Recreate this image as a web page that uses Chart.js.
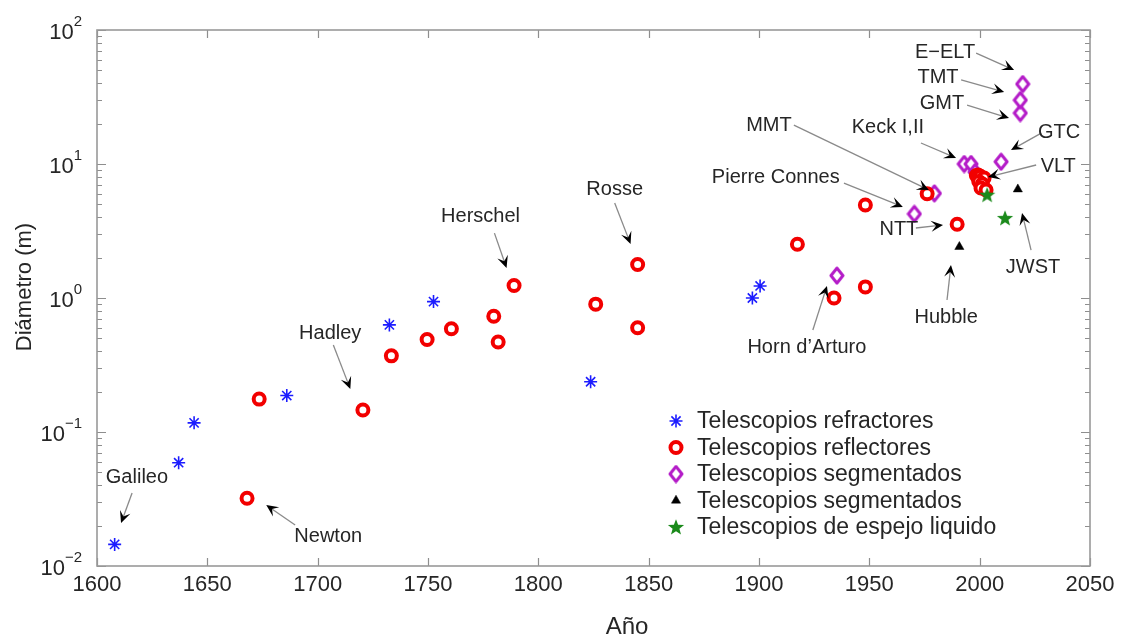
<!DOCTYPE html>
<html>
<head>
<meta charset="utf-8">
<title>Diámetro de telescopios</title>
<script src="https://cdn.jsdelivr.net/npm/chart.js@4.4.1/dist/chart.umd.min.js"></script>
<style>
  html, body { margin: 0; padding: 0; background: #fff; }
  #wrap { position: relative; width: 1124px; height: 636px; }
</style>
</head>
<body>
<div id="wrap"><canvas id="telescopeChart" width="1124" height="636"></canvas></div>
<script>
// Data (year, mirror diameter in m)
const refractorYears = [1608, 1637, 1644, 1686, 1732.5, 1752.5, 1823.7, 1897, 1900.5];
const refractorDiameters = [0.0145, 0.059, 0.117, 0.187, 0.63, 0.94, 0.237, 1.0, 1.23];

const reflectorYears = [1668, 1673.5, 1720.5, 1733.4, 1749.6, 1760.6, 1779.8, 1781.8, 1789, 1826, 1845, 1845,
  1917.4, 1934, 1948.2, 1948.2, 1976.2, 1989.8, 1998.5, 1999.3, 2000.3, 2002, 1999.6, 2001.2, 2000.6, 2002.9];
const reflectorDiameters = [0.032, 0.176, 0.146, 0.37, 0.49, 0.59, 0.73, 0.47, 1.24, 0.9, 1.78, 0.6,
  2.52, 1.0, 1.21, 4.94, 6.0, 3.55, 8.2, 8.28, 8.1, 7.87, 7.4, 7.1, 6.62, 6.4];

const segmentedYears = [1935.3, 1970.4, 1979.5, 1993, 1996.1, 1997.9, 2009.7, 2018.4, 2018.4, 2019.5];
const segmentedDiameters = [1.47, 4.24, 6.04, 10.0, 10.0, 8.7, 10.4, 24, 30, 39.5];

const spaceYears = [1990.8, 2017.3];
const spaceDiameters = [2.41, 6.48];

const liquidYears = [2003.4, 2011.5];
const liquidDiameters = [5.9, 3.95];

const seriesNames = ['Telescopios refractores', 'Telescopios reflectores', 'Telescopios segmentados',
  'Telescopios segmentados', 'Telescopios de espejo liquido'];

// Axis ticks
const xTicks = [1600, 1650, 1700, 1750, 1800, 1850, 1900, 1950, 2000, 2050];
const yTickExponents = [-2, -1, 0, 1, 2];

// Labels: text anchor, arrow tail, arrow tip (all in year / diameter)
const labelNames = ['Galileo', 'Newton', 'Hadley', 'Herschel', 'Rosse', 'Pierre Connes', 'MMT', 'Keck I,II',
  'E\u2212ELT', 'TMT', 'GMT', 'GTC', 'VLT', 'NTT', 'Horn d\u2019Arturo', 'Hubble', 'JWST'];
const labelAt = [[1618.1, 0.0461], [1704.8, 0.0167], [1705.7, 0.548], [1773.8, 4.09], [1834.6, 6.4],
  [1907.6, 7.87], [1904.5, 19.5], [1958.4, 18.6], [1984.3, 68.5], [1981.1, 44.6], [1982.9, 28.5],
  [2036.0, 17.3], [2035.6, 9.66], [1963.4, 3.27], [1921.7, 0.424], [1984.8, 0.721], [2024.2, 1.675]];
const arrowFrom = [[1615.9, 0.0351], [1689.8, 0.0202], [1707.1, 0.446], [1780.1, 3.05], [1834.6, 5.12],
  [1938.5, 7.21], [1915.8, 19.5], [1973.4, 14.35], [1998.4, 67.3], [1991.6, 42.4], [1994.3, 27.5],
  [2027.9, 17.0], [2025.6, 9.83], [1971.1, 3.33], [1924.4, 0.577], [1985.2, 0.966], [2023.3, 2.28]];
const arrowTo = [[1610.9, 0.0209], [1676.7, 0.0285], [1714.8, 0.2095], [1785.6, 1.675], [1841.8, 2.53],
  [1965.2, 4.78], [1977.0, 6.4], [1989.3, 11.09], [2015.6, 50.3], [2011.1, 34.5], [2013.3, 22.0],
  [2014.2, 12.7], [2003.8, 8.0], [1983.4, 3.51], [1930.8, 1.23], [1987.0, 1.76], [2019.2, 4.3]];

const FONT = '"Liberation Sans", Arial, Helvetica, sans-serif';
const TEXT = '#262626';

function toPoints(xs, ys) {
  return xs.map((x, i) => ({ x: x, y: ys[i] }));
}

// filled five-point star used as marker for the liquid mirror series
function makeStar(color, size) {
  const c = document.createElement('canvas');
  c.width = size; c.height = size;
  const g = c.getContext('2d');
  const cx = size / 2, cy = size / 2 + 0.7, R = size / 2 - 0.5, r = R * 0.42;
  g.beginPath();
  for (let i = 0; i < 10; i++) {
    const a = -Math.PI / 2 + i * Math.PI / 5;
    const rr = i % 2 ? r : R;
    g.lineTo(cx + rr * Math.cos(a), cy + rr * Math.sin(a));
  }
  g.closePath();
  g.fillStyle = color;
  g.fill();
  return c;
}

// MATLAB diamonds are a bit taller than wide
function makeDiamond(color, w, h, lw) {
  const c = document.createElement('canvas');
  c.width = w; c.height = h;
  const g = c.getContext('2d');
  const p = lw / 2 + 0.5;
  g.beginPath();
  g.moveTo(w / 2, p);
  g.lineTo(w - p, h / 2);
  g.lineTo(w / 2, h - p);
  g.lineTo(p, h / 2);
  g.closePath();
  g.fillStyle = '#fff';
  g.fill();
  g.lineWidth = lw;
  g.strokeStyle = color;
  g.lineJoin = 'round';
  g.stroke();
  return c;
}

const starMarker = makeStar('#1b8a1b', 18);
const diamondMarker = makeDiamond('#b41cc8', 16, 19, 3);

function drawArrow(ctx, x0, y0, x1, y1) {
  const ang = Math.atan2(y1 - y0, x1 - x0);
  ctx.save();
  ctx.strokeStyle = '#8a8a8a';
  ctx.lineWidth = 1.3;
  ctx.beginPath();
  ctx.moveTo(x0, y0);
  ctx.lineTo(x1 - Math.cos(ang) * 6, y1 - Math.sin(ang) * 6);
  ctx.stroke();
  ctx.translate(x1, y1);
  ctx.rotate(ang);
  ctx.fillStyle = '#000';
  ctx.beginPath();
  ctx.moveTo(0, 0);
  ctx.lineTo(-12, -5.5);
  ctx.lineTo(-7, 0);
  ctx.lineTo(-12, 5.5);
  ctx.closePath();
  ctx.fill();
  ctx.restore();
}

// MATLAB-like box, inward ticks, labels, arrows and legend
const matlabAxes = {
  id: 'matlabAxes',
  beforeDatasetsDraw(chart) {
    const { ctx, chartArea: a } = chart;
    const xs = chart.scales.x, ys = chart.scales.y;
    ctx.save();
    ctx.strokeStyle = '#8e8e8e';
    ctx.lineWidth = 1.2;
    ctx.beginPath();
    xTicks.forEach(v => {
      const px = Math.round(xs.getPixelForValue(v)) + 0.5;
      ctx.moveTo(px, a.bottom); ctx.lineTo(px, a.bottom - 8);
      ctx.moveTo(px, a.top); ctx.lineTo(px, a.top + 8);
    });
    yTickExponents.forEach((e, i) => {
      const base = Math.pow(10, e);
      const py = Math.round(ys.getPixelForValue(base)) + 0.5;
      ctx.moveTo(a.left, py); ctx.lineTo(a.left + 9, py);
      ctx.moveTo(a.right, py); ctx.lineTo(a.right - 9, py);
      if (i < yTickExponents.length - 1) {
        for (let m = 2; m <= 9; m++) {
          const my = Math.round(ys.getPixelForValue(base * m)) + 0.5;
          ctx.moveTo(a.left, my); ctx.lineTo(a.left + 5, my);
          ctx.moveTo(a.right, my); ctx.lineTo(a.right - 5, my);
        }
      }
    });
    ctx.stroke();
    ctx.lineWidth = 1.6;
    ctx.strokeStyle = '#999';
    ctx.strokeRect(a.left, a.top, a.right - a.left, a.bottom - a.top);

    // x tick labels
    ctx.fillStyle = TEXT;
    ctx.font = '22px ' + FONT;
    ctx.textAlign = 'center';
    ctx.textBaseline = 'middle';
    xTicks.forEach(v => ctx.fillText(String(v), xs.getPixelForValue(v), a.bottom + 19));

    // y tick labels as 10^n
    yTickExponents.forEach(e => {
      const py = ys.getPixelForValue(Math.pow(10, e));
      const exp = e < 0 ? '\u2212' + Math.abs(e) : String(e);
      ctx.font = '15px ' + FONT;
      const ew = ctx.measureText(exp).width;
      ctx.textAlign = 'left';
      ctx.fillText(exp, 82 - ew, py - 8);
      ctx.font = '22px ' + FONT;
      ctx.textAlign = 'right';
      ctx.fillText('10', 82 - ew, py + 3);
    });

    // axis titles
    ctx.font = '24px ' + FONT;
    ctx.textAlign = 'center';
    ctx.textBaseline = 'alphabetic';
    ctx.fillText('A\u00f1o', 627, 634);
    ctx.save();
    ctx.translate(31, 287);
    ctx.rotate(-Math.PI / 2);
    ctx.font = '22px ' + FONT;
    ctx.fillText('Di\u00e1metro (m)', 0, 0);
    ctx.restore();
    ctx.restore();
  },
  afterDatasetsDraw(chart) {
    const { ctx } = chart;
    const xs = chart.scales.x, ys = chart.scales.y;
    ctx.save();
    labelNames.forEach((name, i) => {
      drawArrow(ctx,
        xs.getPixelForValue(arrowFrom[i][0]), ys.getPixelForValue(arrowFrom[i][1]),
        xs.getPixelForValue(arrowTo[i][0]), ys.getPixelForValue(arrowTo[i][1]));
    });
    ctx.fillStyle = TEXT;
    ctx.font = '20px ' + FONT;
    ctx.textAlign = 'center';
    ctx.textBaseline = 'middle';
    labelNames.forEach((name, i) => {
      ctx.fillText(name, xs.getPixelForValue(labelAt[i][0]), ys.getPixelForValue(labelAt[i][1]));
    });

    // legend (inside the axes, no frame)
    chart.data.datasets.forEach((ds, i) => {
      const y = 421 + i * 26.5;
      ctx.save();
      ctx.fillStyle = ds.backgroundColor;
      ctx.strokeStyle = ds.borderColor;
      ctx.lineWidth = ds.borderWidth;
      Chart.helpers.drawPoint(ctx, {
        pointStyle: ds.pointStyle, radius: ds.pointRadius, borderWidth: ds.borderWidth, rotation: 0
      }, 676, y);
      ctx.restore();
      ctx.fillStyle = TEXT;
      ctx.font = '23px ' + FONT;
      ctx.textAlign = 'left';
      ctx.fillText(ds.label, 697, y + 1);
    });
    ctx.restore();
  }
};

const datasets = [
  {
    label: seriesNames[0],
    data: toPoints(refractorYears, refractorDiameters),
    pointStyle: 'star', pointRadius: 6.5, borderWidth: 1.6,
    borderColor: '#1c1cff', backgroundColor: '#1c1cff', order: 4
  },
  {
    label: seriesNames[1],
    data: toPoints(reflectorYears, reflectorDiameters),
    pointStyle: 'circle', pointRadius: 5.5, borderWidth: 4,
    borderColor: '#f20000', backgroundColor: '#ffffff', order: 2
  },
  {
    label: seriesNames[2],
    data: toPoints(segmentedYears, segmentedDiameters),
    pointStyle: diamondMarker, pointRadius: 8, borderWidth: 0,
    borderColor: '#b41cc8', backgroundColor: '#ffffff', order: 3
  },
  {
    label: seriesNames[3],
    data: toPoints(spaceYears, spaceDiameters),
    pointStyle: 'triangle', pointRadius: 5.3, borderWidth: 0.5,
    borderColor: '#000000', backgroundColor: '#000000', order: 1
  },
  {
    label: seriesNames[4],
    data: toPoints(liquidYears, liquidDiameters),
    pointStyle: starMarker, pointRadius: 8, borderWidth: 0,
    borderColor: '#1b8a1b', backgroundColor: '#1b8a1b', order: 0
  }
];

const config = {
  type: 'scatter',
  data: { datasets: datasets },
  options: {
    responsive: false,
    animation: false,
    layout: { padding: { top: 30, right: 34, left: 0, bottom: 0 } },
    plugins: {
      legend: { display: false },
      tooltip: { enabled: false }
    },
    scales: {
      x: {
        type: 'linear', min: 1600, max: 2050,
        grid: { display: false, drawTicks: false },
        border: { display: false },
        ticks: { display: false, stepSize: 50 },
        afterFit: (scale) => { scale.height = 70; }
      },
      y: {
        type: 'logarithmic', min: 0.01, max: 100,
        grid: { display: false, drawTicks: false },
        border: { display: false },
        ticks: { display: false },
        afterFit: (scale) => { scale.width = 97; }
      }
    }
  },
  plugins: [matlabAxes]
};

new Chart(document.getElementById('telescopeChart'), config);
</script>
</body>
</html>
